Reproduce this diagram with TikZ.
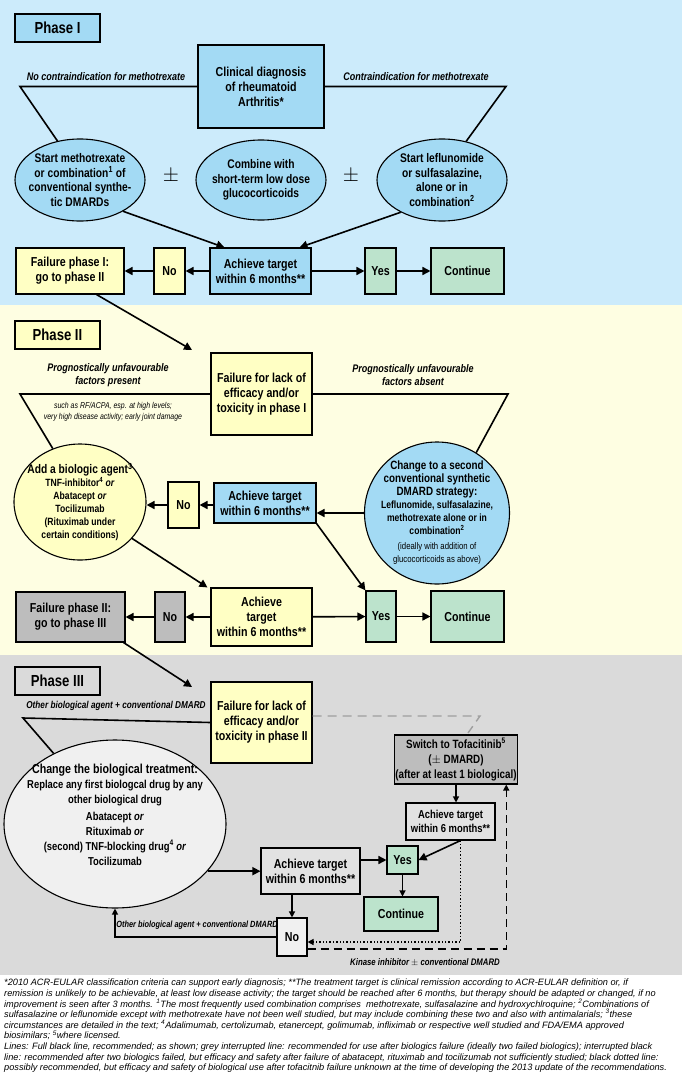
\documentclass[tikz,border=0pt]{standalone}
\usepackage{fontspec}
\setmainfont{Liberation Sans}[FakeStretch=0.82]
\newfontfamily\fnfont{Liberation Sans}
\usetikzlibrary{shapes.geometric,arrows.meta,calc}
\definecolor{bgblue}{HTML}{CCEBFB}
\definecolor{nblue}{HTML}{A3DAF4}
\definecolor{bgyel}{HTML}{FEFEE2}
\definecolor{nyel}{HTML}{FFFFC4}
\definecolor{ngreen}{HTML}{BCE3CC}
\definecolor{bggray}{HTML}{DADADA}
\definecolor{ngray}{HTML}{BDBDBD}
\definecolor{lgray}{HTML}{E2E2E2}
\definecolor{egray}{HTML}{F0F0F0}
\begin{document}
\begin{tikzpicture}[x=1pt,y=-1pt,
  box/.style={draw,line width=1.1pt,align=center,inner sep=1pt,font=\fontsize{13}{15}\selectfont\bfseries},
  ell/.style={ellipse,draw,line width=1.1pt,align=center,inner sep=-9pt,font=\fontsize{12.5}{14.5}\selectfont\bfseries},
  lab/.style={font=\fontsize{16}{18}\selectfont\bfseries,draw,line width=1.1pt,minimum width=85pt,minimum height=28pt},
  ln/.style={line width=1.6pt},
  arr/.style={line width=1.6pt,-{Triangle[length=8pt,width=8pt]}},
  sarr/.style={line width=1.2pt,-{Triangle[length=6pt,width=6pt]}},
  itl/.style={font=\fontsize{11}{13}\selectfont\bfseries\itshape,align=center}]
\useasboundingbox (0,0) rectangle (682,1084);
\fill[bgblue] (0,0) rectangle (682,305);
\fill[bgyel] (0,305) rectangle (682,655);
\fill[bggray] (0,655) rectangle (682,975);
\fill[white] (0,975) rectangle (682,1084);
% ---------- Phase I
\node[lab,fill=nblue] (p1) at (57.5,28) {Phase I};
\node[box,fill=nblue,minimum width=126pt,minimum height=83pt] (diag) at (261,86.5) {Clinical diagnosis\\of rheumatoid\\Arthritis*};
\node[ell,fill=nblue,minimum width=130pt,minimum height=82pt] (e1) at (80,180) {Start methotrexate\\or combination\textsuperscript{1} of\\conventional synthe-\\tic DMARDs};
\node[ell,fill=nblue,minimum width=130pt,minimum height=80pt] (e2) at (261,180) {Combine with\\short-term low dose\\glucocorticoids};
\node[ell,fill=nblue,minimum width=130pt,minimum height=82pt] (e3) at (442,180) {Start leflunomide\\or sulfasalazine,\\alone or in\\combination\textsuperscript{2}};
\node[font=\fontsize{20}{20}\selectfont] (pm1) at (171,176) {$\pm$};
\node[font=\fontsize{20}{20}\selectfont] (pm2) at (351,176) {$\pm$};
\node[box,fill=nblue,minimum width=101pt,minimum height=46pt] (a1) at (260.5,271) {Achieve target\\within 6 months**};
\node[box,fill=nyel,minimum width=31pt,minimum height=46pt] (no1) at (169.5,271) {No};
\node[box,fill=nyel,minimum width=108pt,minimum height=46pt] (f1) at (70,271) {Failure phase I:\\go to phase II};
\node[box,fill=ngreen,minimum width=31pt,minimum height=46pt] (yes1) at (380.5,271) {Yes};
\node[box,fill=ngreen,minimum width=73pt,minimum height=46pt] (c1) at (467.5,271) {Continue};
\coordinate (l1) at (20,86.5);
\coordinate (r1) at (506,86.5);
\draw[ln] (diag.west) -- (l1) -- (e1.120);
\draw[ln] (diag.east) -- (r1) -- (e3.58);
\node[itl,anchor=south] (t1) at (106,84) {No contraindication for methotrexate};
\node[itl,anchor=south] (t2) at (416,84) {Contraindication for methotrexate};
\draw[arr] (e1.-36) -- ([xshift=15pt]a1.north west);
\draw[arr] (e3.-142) -- ([xshift=-12pt]a1.north east);
\draw[arr] (a1) -- (no1);
\draw[arr] (no1) -- (f1);
\draw[arr] (a1) -- (yes1);
\draw[arr] (yes1) -- (c1);
% ---------- Phase II
\coordinate (f1end) at (192,350);
\draw[arr] ([xshift=-28pt]f1.south east) -- (f1end);
\node[lab,fill=nyel] (p2) at (57.5,335) {Phase II};
\node[box,fill=nyel,minimum width=101pt,minimum height=82pt] (fail1) at (261.5,394) {Failure for lack of\\efficacy and/or\\toxicity in phase I};
\node[ell,inner sep=-12pt,fill=nyel,minimum width=132pt,minimum height=116pt,font=\fontsize{10.5}{13}\selectfont\bfseries] (e4) at (80,502) {{\fontsize{12.5}{15}\selectfont Add a biologic agent\textsuperscript{3}}\\TNF-inhibitor\textsuperscript{4} \textit{or}\\Abatacept \textit{or}\\Tocilizumab\\(Rituximab under\\certain conditions)};
\node[box,fill=nyel,minimum width=31pt,minimum height=46pt] (no2a) at (183.5,505) {No};
\node[box,fill=nblue,minimum width=102pt,minimum height=40pt] (a2) at (265,503) {Achieve target\\within 6 months**};
\node[ell,fill=nblue,minimum width=145pt,minimum height=142pt,font=\fontsize{10.5}{13}\selectfont\bfseries] (e5) at (437,513) {{\fontsize{12}{14}\selectfont Change to a second}\\{\fontsize{12}{14}\selectfont conventional synthetic}\\{\fontsize{12}{14}\selectfont DMARD strategy:}\\Leflunomide, sulfasalazine,\\methotrexate alone or in\\combination\textsuperscript{2}\\[2pt]{\mdseries\fontsize{9.5}{12}\selectfont (ideally with addition of}\\{\mdseries\fontsize{9.5}{12}\selectfont glucocorticoids as above)}};
\node[box,fill=nyel,minimum width=101pt,minimum height=58pt] (a2b) at (261.5,617) {Achieve\\target\\within 6 months**};
\node[box,fill=ngray,minimum width=30pt,minimum height=50pt] (no2b) at (170,617) {No};
\node[box,fill=ngray,minimum width=109pt,minimum height=50pt] (f2) at (70.5,617) {Failure phase II:\\go to phase III};
\node[box,fill=ngreen,minimum width=30pt,minimum height=51pt] (yes2) at (381,616.5) {Yes};
\node[box,fill=ngreen,minimum width=73pt,minimum height=51pt] (c2) at (467.5,616.5) {Continue};
\coordinate (l2) at (20,394);
\coordinate (r2) at (508,394);
\draw[ln] (fail1.west) -- (l2) -- (e4.117);
\draw[ln] (fail1.east) -- (r2) -- (e5.57);
\node[itl] (t3) at (108,375) {Prognostically unfavourable\\factors present};
\node[itl] (t4) at (413,375) {Prognostically unfavourable\\factors absent};
\node[font=\fontsize{8.5}{11}\selectfont\itshape,align=center] (t5) at (113,412) {such as RF/ACPA, esp. at high levels;\\very high disease activity; early joint damage};
\draw[arr] (e5.west) -- (a2.east|-e5.west);
\draw[arr] (a2.west|-no2a) -- (no2a);
\draw[arr] (no2a) -- (e4.east|-no2a);
\draw[arr] (a2.south east) -- (yes2.north west);
\draw[arr] (e4.-35) -- ([xshift=-3pt]a2b.north west);
\draw[arr] (a2b) -- (no2b);
\draw[arr] (no2b) -- (f2);
\draw[arr] (a2b) -- (yes2);
\draw[arr] (yes2) -- (c2);
% ---------- Phase III
\coordinate (f2end) at (192,687);
\draw[arr] ([xshift=-2pt]f2.south east) -- (f2end);
\node[lab,fill=bggray] (p3) at (57.5,681) {Phase III};
\node[box,fill=nyel,minimum width=101pt,minimum height=81pt] (fail2) at (261.5,722.5) {Failure for lack of\\efficacy and/or\\toxicity in phase II};
\node[ell,inner sep=-20pt,fill=egray,minimum width=222pt,minimum height=168pt,font=\fontsize{11.5}{15}\selectfont\bfseries] (e6) at (115,824) {{\fontsize{13}{16}\selectfont Change the biological treatment:}\\Replace any first biologcal drug by any\\other biological drug\\[2pt]Abatacept \textit{or}\\Rituximab \textit{or}\\(second) TNF-blocking drug\textsuperscript{4} \textit{or}\\Tocilizumab\\[4pt]};
\node[box,fill=ngray,minimum width=120pt,minimum height=49pt,font=\fontsize{12}{15}\selectfont\bfseries] (tofa) at (456,759.5) {Switch to Tofacitinib\textsuperscript{5}\\($\pm$ DMARD)\\(after at least 1 biological)};
\node[box,fill=lgray,minimum width=89pt,minimum height=37pt,font=\fontsize{11.5}{14}\selectfont\bfseries] (a3s) at (450.5,821.5) {Achieve target\\within 6 months**};
\node[box,fill=lgray,minimum width=99pt,minimum height=46pt] (a3) at (310.5,871) {Achieve target\\within 6 months**};
\node[box,fill=ngreen,minimum width=31pt,minimum height=28pt] (yes3) at (402.5,860) {Yes};
\node[box,fill=ngreen,minimum width=74pt,minimum height=34pt] (c3) at (401,914) {Continue};
\node[box,fill=egray,minimum width=30pt,minimum height=38pt] (no3) at (292,937) {No};
\coordinate (l3) at (23,718);
\coordinate (g1) at (480,716);
\coordinate (g2) at (468,733);
\draw[ln] (fail2.west) -- (l3) -- (e6.131);
\node[itl,font=\fontsize{10}{12}\selectfont\bfseries\itshape,anchor=south] (t6) at (116,714) {Other biological agent + conventional DMARD};
\draw[line width=1.4pt,gray!75,dash pattern=on 9pt off 6pt] (fail2.east|-g1) -- (g1) -- (g2);
\draw[sarr] (tofa.south|-tofa.south) -- (tofa.south|-a3s.north);
\draw[arr] (e6.-27) -- (a3.west|-e6.-27);
\draw[arr] (a3.east|-yes3.west) -- (yes3.west);
\draw[arr] ([xshift=10pt]a3s.south) -- (yes3.east);
\draw[sarr] (yes3.south) -- (yes3.south|-c3.north);
\draw[sarr] (no3.north|-a3.south) -- (no3.north);
\draw[sarr] (no3.west) -| (e6.south);
\node[font=\fontsize{9}{12}\selectfont\bfseries\itshape,anchor=south] (t7) at (197,933) {Other biological agent + conventional DMARD};
\draw[line width=1.4pt,dotted,-{Triangle[length=6pt,width=6pt]}] ([xshift=10pt]a3s.south) |- ([yshift=-5pt]no3.east);
\draw[line width=1.4pt,dash pattern=on 8pt off 5pt,-{Triangle[length=6pt,width=6pt]}] ([yshift=-12pt]no3.east) -| ([xshift=-12pt]tofa.south east);
\node[font=\fontsize{9.5}{12}\selectfont\bfseries\itshape] (t8) at (425,962) {Kinase inhibitor $\pm$ conventional DMARD};
% ---------- footnotes
\node[anchor=north west,align=left,inner sep=0pt,font=\fnfont\fontsize{9.2}{10.6}\selectfont\itshape] (fn) at (4,979) {*2010 ACR-EULAR classification criteria can support early diagnosis; **The treatment target is clinical remission according to ACR-EULAR definition or, if\\
remission is unlikely to be achievable, at least low disease activity; the target should be reached after 6 months, but therapy should be adapted or changed, if no\\
improvement is seen after 3 months. \textsuperscript{1}The most frequently used combination comprises\ \ methotrexate, sulfasalazine and hydroxychlroquine; \textsuperscript{2}Combinations of\\
sulfasalazine or leflunomide except with methotrexate have not been well studied, but may include combining these two and also with antimalarials; \textsuperscript{3}these\\
circumstances are detailed in the text; \textsuperscript{4}Adalimumab, certolizumab, etanercept, golimumab, infliximab or respective well studied and FDA/EMA approved\\
biosimilars; \textsuperscript{5}where licensed.\\
Lines: Full black line, recommended; as shown; grey interrupted line: recommended for use after biologics failure (ideally two failed biologics); interrupted black\\
line: recommended after two biologics failed, but efficacy and safety after failure of abatacept, rituximab and tocilizumab not sufficiently studied; black dotted line:\\
possibly recommended, but efficacy and safety of biological use after tofacitnib failure unknown at the time of developing the 2013 update of the recommendations.};
\end{tikzpicture}
\end{document}
